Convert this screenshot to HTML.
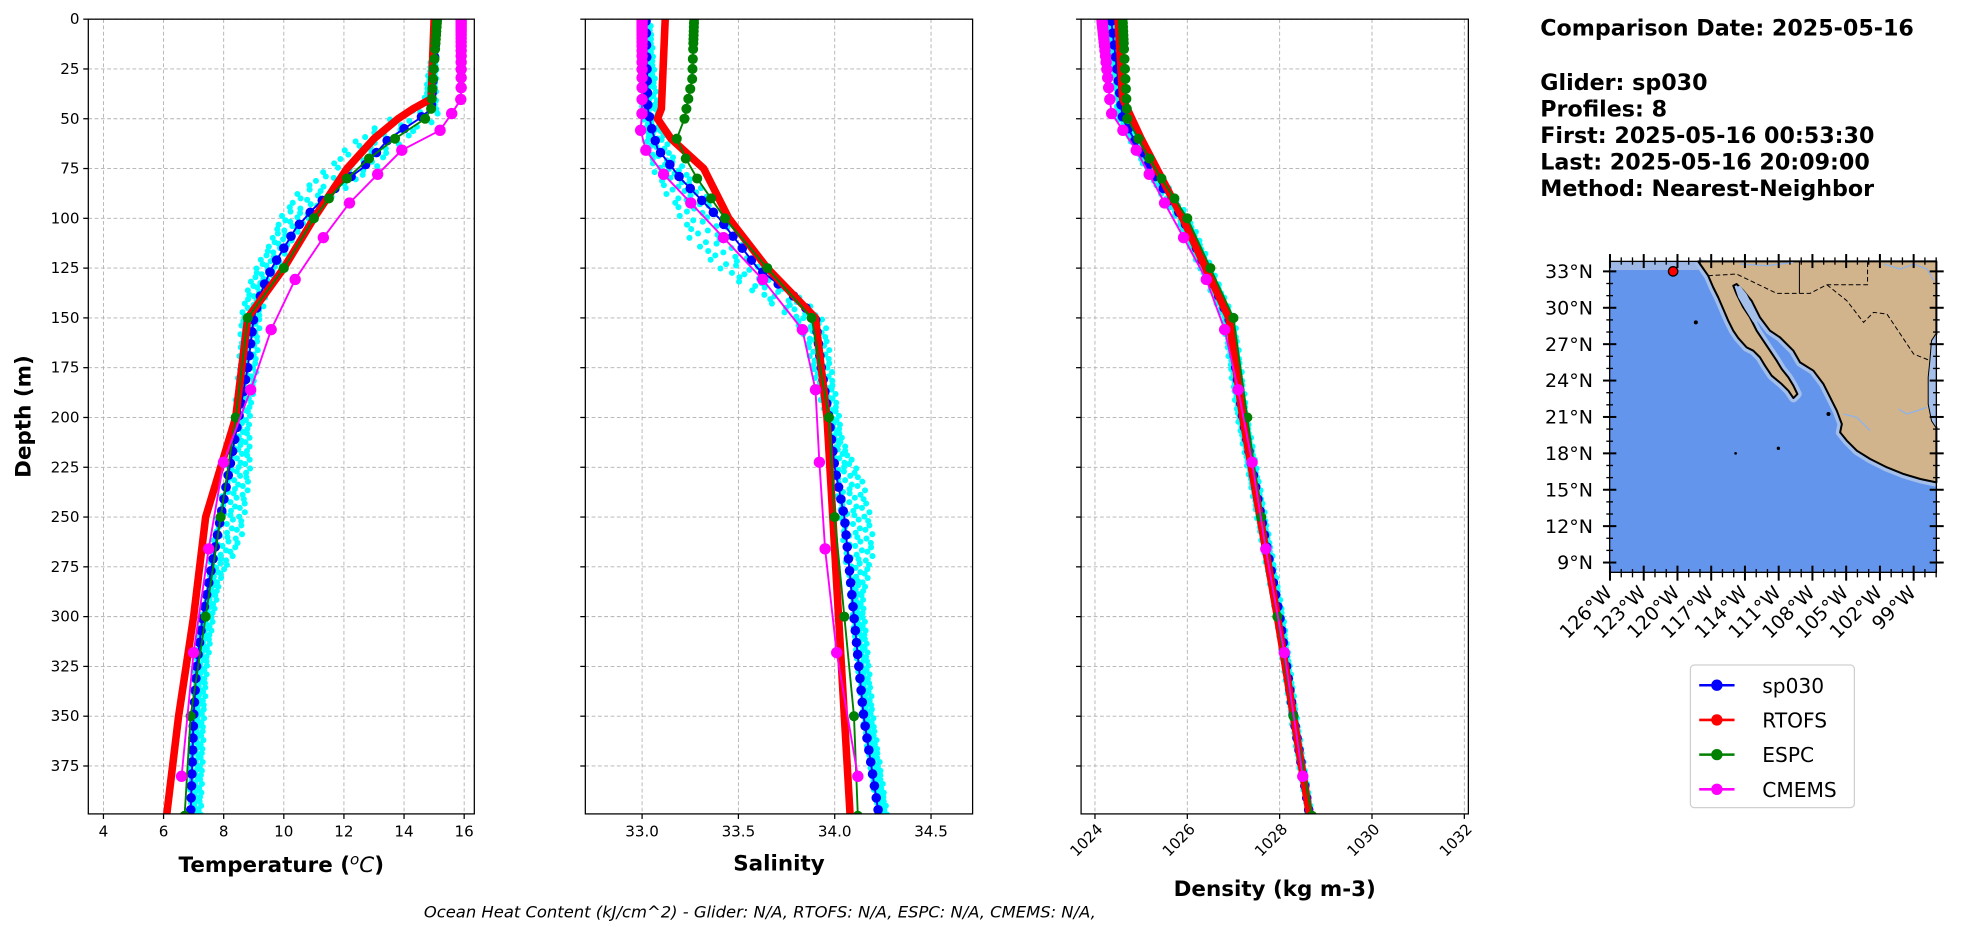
<!DOCTYPE html>
<html><head><meta charset="utf-8"><style>
html,body{margin:0;padding:0;background:#fff;}
svg{display:block;font-family:"DejaVu Sans","Liberation Sans",sans-serif;}
</style></head><body>
<svg id="s" width="1978" height="934" viewBox="0 0 1568 740" xmlns="http://www.w3.org/2000/svg"></svg>
<script>
const S=document.getElementById('s');
let out='';
const Y0=15,Y1=645;
const yd=d=>Y0+d*1.5787;
function interp(pts,d){if(d<=pts[0][0])return pts[0][1];for(let i=1;i<pts.length;i++){if(d<=pts[i][0]){const a=pts[i-1],b=pts[i];return a[1]+(b[1]-a[1])*(d-a[0])/(b[0]-a[0]);}}return pts[pts.length-1][1];}
const panels=[
 {x0:70,x1:376,v0:4,p0:82,k:23.83,ticks:[4,6,8,10,12,14,16],rot:false,
  blue:[[0,15.1],[45,14.9],[50,14.5],[60,13.5],[75,12.6],[85,11.7],[95,11.0],[105,10.4],[115,10.0],[125,9.6],[135,9.3],[150,9.0],[175,8.8],[200,8.5],[225,8.2],[250,7.9],[275,7.6],[300,7.3],[325,7.1],[350,7.0],[375,6.95],[400,6.9]],
  red:[[0,15.0],[40,14.9],[45,14.3],[50,13.8],[60,13.0],[75,12.1],[100,11.0],[125,10.0],[150,8.8],[200,8.4],[250,7.4],[300,7.0],[350,6.5],[400,6.1]],
  green:[[0,15.1],[45,14.9],[50,14.7],[60,13.7],[75,12.4],[90,11.5],[100,11.0],[125,10.0],[150,8.8],[200,8.4],[250,7.9],[300,7.4],[350,6.9],[400,6.7]],
  mag:[[0,15.9],[40,15.9],[47,15.6],[55,15.3],[66,13.9],[92,12.2],[110,11.3],[130,10.4],[155,9.6],[186,8.9],[222,8.0],[266,7.5],[318,7.0],[380,6.6],[400,6.5]],
  cy:[[0,0,0],[40,-0.2,0.1],[50,-0.8,0.3],[70,-1.0,0.2],[90,-0.9,0],[110,-0.5,0],[140,-0.4,0.1],[200,-0.1,0.3],[225,0,0.6],[260,0,0.7],[280,0,0.3],[400,0,0.3]]},
 {x0:464,x1:771,v0:33.0,p0:509,k:152.7,ticks:[33.0,33.5,34.0,34.5],lab:'Salinity',rot:false,
  blue:[[0,33.02],[45,33.03],[55,33.05],[65,33.08],[80,33.2],[100,33.4],[125,33.6],[140,33.8],[150,33.9],[175,33.93],[200,33.97],[225,34.0],[250,34.05],[300,34.1],[350,34.15],[400,34.23]],
  red:[[0,33.12],[45,33.1],[50,33.08],[60,33.15],[75,33.32],[100,33.45],[125,33.65],[150,33.9],[200,33.96],[300,34.02],[400,34.08]],
  green:[[0,33.27],[30,33.26],[50,33.22],[60,33.18],[75,33.25],[100,33.43],[125,33.65],[150,33.88],[200,33.97],[250,34.0],[300,34.05],[350,34.1],[400,34.12]],
  mag:[[0,33.0],[47,33.0],[55,32.99],[66,33.02],[79,33.12],[92,33.25],[130,33.62],[155,33.83],[186,33.9],[222,33.92],[266,33.95],[318,34.01],[380,34.12],[400,34.13]],
  cy:[[0,0,0.02],[60,-0.03,0.05],[80,-0.1,0.05],[110,-0.2,0.03],[140,-0.15,0.02],[160,-0.05,0.04],[210,0,0.05],[230,0,0.12],[265,0,0.12],[290,0,0.05],[400,0,0.04]]},
 {x0:857,x1:1164,v0:1024,p0:868,k:36.6,ticks:[1024,1026,1028,1030,1032],lab:'Density (kg m-3)',rot:true,
  blue:[[0,1024.35],[50,1024.6],[75,1025.2],[100,1025.9],[125,1026.4],[150,1026.9],[200,1027.2],[250,1027.6],[300,1028.0],[350,1028.3],[400,1028.65]],
  red:[[0,1024.5],[40,1024.6],[60,1025.0],[100,1025.9],[150,1026.9],[200,1027.2],[300,1027.95],[400,1028.65]],
  green:[[0,1024.6],[50,1024.7],[75,1025.3],[100,1026.0],[150,1027.0],[250,1027.6],[350,1028.3],[400,1028.7]],
  mag:[[0,1024.15],[47,1024.35],[66,1024.9],[92,1025.5],[130,1026.4],[155,1026.8],[186,1027.1],[222,1027.4],[266,1027.7],[318,1028.1],[380,1028.5],[400,1028.55]],
  cy:[[0,-0.05,0.05],[100,-0.1,0.15],[150,-0.1,0.1],[400,-0.03,0.05]]}
];
const espcD=[0,2,4,6,8,10,12,15,20,25,30,35,40,45,50,60,70,80,90,100,125,150,200,250,300,350,400];
const cmD=[0.5,1.5,2.6,3.8,5,6.4,7.9,9.6,11.4,13.5,15.8,18.5,21.6,25.2,29.4,34.4,40.3,47.4,55.8,65.8,77.9,92.3,109.7,130.7,155.9,186.1,222.5,266.0,318.1,380.2];
function interp3(pts,d){let i=1;while(i<pts.length-1&&d>pts[i][0])i++;const a=pts[i-1],b=pts[i];const t=Math.max(0,Math.min(1,(d-a[0])/(b[0]-a[0])));return [a[1]+(b[1]-a[1])*t,a[2]+(b[2]-a[2])*t];}
panels.forEach((p,pi)=>{
 const xv=v=>p.p0+(v-p.v0)*p.k;
 out+=`<clipPath id="c${pi}"><rect x="${p.x0}" y="${Y0}" width="${p.x1-p.x0}" height="${Y1-Y0}"/></clipPath>`;
 for(let d=0;d<=375;d+=25)out+=`<line x1="${p.x0}" x2="${p.x1}" y1="${yd(d)}" y2="${yd(d)}" stroke="#b0b0b0" stroke-width="0.7" stroke-dasharray="3,2"/>`;
 p.ticks.forEach(t=>{const x=xv(t);out+=`<line x1="${x}" x2="${x}" y1="${Y0}" y2="${Y1}" stroke="#b0b0b0" stroke-width="0.7" stroke-dasharray="3,2"/>`;
  out+=`<line x1="${x}" x2="${x}" y1="${Y1}" y2="${Y1+4}" stroke="#000"/>`;
  const lbl=pi!=1?t:t.toFixed(1);
  if(p.rot)out+=`<text transform="translate(${x+4},${Y1+10}) rotate(-45)" text-anchor="end" font-size="12" dy="4">${lbl}</text>`;
  else out+=`<text x="${x}" y="${Y1+18}" text-anchor="middle" font-size="12">${lbl}</text>`;});
 for(let d=0;d<=375;d+=25){out+=`<line x1="${p.x0-4}" x2="${p.x0}" y1="${yd(d)}" y2="${yd(d)}" stroke="#000"/>`;
  if(pi==0)out+=`<text x="${p.x0-7}" y="${yd(d)+4}" text-anchor="end" font-size="12">${d}</text>`;}
 let g=`<g clip-path="url(#c${pi})">`;
 for(let d=2;d<=400;d+=2.2){const b=interp(p.blue,d);const [lo,hi]=interp3(p.cy,d);
  [lo,(lo+hi)/2,hi].forEach((o,j)=>{const jit=Math.sin(d*1.7+j*2.1)*0.15*(hi-lo);g+=`<circle cx="${xv(b+o+jit)}" cy="${yd(d+j*0.7)}" r="2.4" fill="#00ffff"/>`;});}
 const line=(pts,c,w)=>`<polyline fill="none" stroke="${c}" stroke-width="${w}" stroke-linejoin="round" points="${pts.map(q=>xv(q[1])+','+yd(q[0])).join(' ')}"/>`;
 g+=line(p.blue,'#0000ff',1.5);
 for(let d=1;d<=400;d+=6)g+=`<circle cx="${xv(interp(p.blue,d))}" cy="${yd(d)}" r="3.8" fill="#0000ff"/>`;
 g+=line(p.red,'#ff0000',6);
 g+=line(espcD.map(d=>[d,interp(p.green,d)]),'#008000',1.5);
 espcD.forEach(d=>g+=`<circle cx="${xv(interp(p.green,d))}" cy="${yd(d)}" r="4" fill="#008000"/>`);
 g+=line(cmD.map(d=>[d,interp(p.mag,d)]),'#ff00ff',1.5);
 cmD.forEach(d=>g+=`<circle cx="${xv(interp(p.mag,d))}" cy="${yd(d)}" r="4.5" fill="#ff00ff"/>`);
 g+='</g>';out+=g;
 out+=`<rect x="${p.x0}" y="${Y0}" width="${p.x1-p.x0}" height="${Y1-Y0}" fill="none" stroke="#000" stroke-width="1"/>`;
 const cx=(p.x0+p.x1)/2;
 if(pi==0)out+=`<text x="${cx}" y="${691}" text-anchor="middle" font-size="17" font-weight="bold">Temperature (<tspan font-style="italic" font-weight="normal" font-size="12" dy="-6">o</tspan><tspan font-style="italic" font-weight="normal" dy="6">C</tspan>)</text>`;
 else out+=`<text x="${cx}" y="${pi==1?690:710}" text-anchor="middle" font-size="17" font-weight="bold">${p.lab}</text>`;
});
out+=`<text transform="translate(24,330) rotate(-90)" text-anchor="middle" font-size="17" font-weight="bold">Depth (m)</text>`;
out+=`<text x="336" y="727" font-size="13" font-style="italic">Ocean Heat Content (kJ/cm^2) - Glider: N/A,  RTOFS: N/A,  ESPC: N/A,  CMEMS: N/A,</text>`;
const info=[[28,'Comparison Date: 2025-05-16'],[71,'Glider: sp030'],[92,'Profiles: 8'],[113,'First: 2025-05-16 00:53:30'],[134,'Last: 2025-05-16 20:09:00'],[155,'Method: Nearest-Neighbor']];
info.forEach(a=>out+=`<text x="1221" y="${a[0]}" font-size="17.6" font-weight="bold">${a[1]}</text>`);
let m=`<svg x="1276" y="207" width="259" height="246.5" viewBox="90 32 978 933" preserveAspectRatio="none" overflow="visible">`;
m+=`<rect x="90" y="32" width="978" height="933" fill="#6495ed"/><rect x="90" y="32" width="265" height="26" fill="#9db8e6"/>`;
const coast="355,32 385,75 400,110 415,140 430,175 445,210 460,240 475,262 500,290 520,300 540,320 555,345 575,375 605,400 625,420 640,442 652,430 640,405 625,380 605,355 590,330 570,300 550,270 530,240 510,200 490,170 470,130 460,105 470,100 490,120 515,150 540,200 570,240 600,260 640,300 660,335 700,360 730,400 750,440 770,480 785,520 780,545 800,570 830,600 870,625 920,650 970,670 1020,685 1068,695";
m+=`<polyline points="${coast}" fill="none" stroke="#a4c0ea" stroke-width="26" stroke-linejoin="round"/>`;
m+=`<polygon points="${coast} 1068,530 1055,510 1045,460 1045,380 1050,330 1055,270 1068,250 1068,32" fill="#d2b48c" stroke="#000" stroke-width="6" stroke-linejoin="round"/>`;
m+=`<polygon points="1068,250 1055,270 1050,330 1045,380 1045,460 1055,510 1068,530" fill="#a4c0ea"/>`;
m+=`<polygon points="465,110 480,105 500,130 520,170 540,210 520,215 495,175 475,140" fill="#a4c0ea"/>`;
m+=`<polyline points="385,75 470,70 590,128 690,128 740,102 862,102 862,32" fill="none" stroke="#000" stroke-width="3" stroke-dasharray="14,8"/>`;
m+=`<polyline points="658,32 658,128" stroke="#000" stroke-width="3" fill="none"/>`;
m+=`<polyline points="740,102 800,150 850,215 880,185 920,190 960,250 1000,310 1050,330" fill="none" stroke="#000" stroke-width="3" stroke-dasharray="14,8"/>`;
m+=`<polyline points="480,40 560,45 640,35" fill="none" stroke="#8fb3e8" stroke-width="4"/>`;
m+=`<polyline points="910,40 960,55 1000,40 1040,55 1060,90" fill="none" stroke="#8fb3e8" stroke-width="4"/>`;
m+=`<polyline points="790,490 830,500 870,540" fill="none" stroke="#8fb3e8" stroke-width="4"/><polyline points="955,475 980,490 1040,470" fill="none" stroke="#8fb3e8" stroke-width="4"/>`;
m+=`<circle cx="348" cy="215" r="6" fill="#000"/><circle cx="595" cy="593" r="5" fill="#000"/><circle cx="467" cy="608" r="4" fill="#000"/><circle cx="745" cy="490" r="6" fill="#000"/>`;
m+=`<circle cx="280" cy="62" r="14" fill="#ff0000" stroke="#000" stroke-width="4"/>`;
m+=`<rect x="90" y="32" width="978" height="933" fill="none" stroke="#000" stroke-width="4"/>`;
const lats=[33,30,27,24,21,18,15,12,9];
lats.forEach((L,i)=>{const y=62+i*109.2;m+=`<line x1="70" x2="110" y1="${y}" y2="${y}" stroke="#000" stroke-width="6"/><line x1="1048" x2="1090" y1="${y}" y2="${y}" stroke="#000" stroke-width="6"/>`;
 m+=`<text x="40" y="${y+20}" text-anchor="end" font-size="57">${L}°N</text>`;
 for(let k=1;k<3&&i<8;k++){const yy=y+k*36.4;m+=`<line x1="80" x2="100" y1="${yy}" y2="${yy}" stroke="#000" stroke-width="4"/><line x1="1058" x2="1078" y1="${yy}" y2="${yy}" stroke="#000" stroke-width="4"/>`;}});
const lons=[126,123,120,117,114,111,108,105,102,99];
lons.forEach((L,i)=>{const x=91+i*101;m+=`<line x1="${x}" x2="${x}" y1="945" y2="990" stroke="#000" stroke-width="6"/><line x1="${x}" x2="${x}" y1="10" y2="52" stroke="#000" stroke-width="6"/>`;
 for(let k=1;k<3;k++){const xx=x+k*33.7;if(xx<1068)m+=`<line x1="${xx}" x2="${xx}" y1="955" y2="980" stroke="#000" stroke-width="4"/><line x1="${xx}" x2="${xx}" y1="20" y2="42" stroke="#000" stroke-width="4"/>`;}
 m+=`<text transform="translate(${x+10},1030) rotate(-45)" text-anchor="end" font-size="57">${L}°W</text>`;});
m+=`</svg>`;out+=m;
out+=`<rect x="1340" y="527" width="130" height="113" rx="3" fill="#fff" stroke="#d0d0d0"/>`;
[['sp030','#0000ff'],['RTOFS','#ff0000'],['ESPC','#008000'],['CMEMS','#ff00ff']].forEach((e,i)=>{const y=543+i*27.5;
 out+=`<line x1="1347" x2="1375" y1="${y}" y2="${y}" stroke="${e[1]}" stroke-width="2"/><circle cx="1361" cy="${y}" r="4.5" fill="${e[1]}"/><text x="1397" y="${y+6}" font-size="16">${e[0]}</text>`;});
S.innerHTML=out;
</script>
</body></html>
